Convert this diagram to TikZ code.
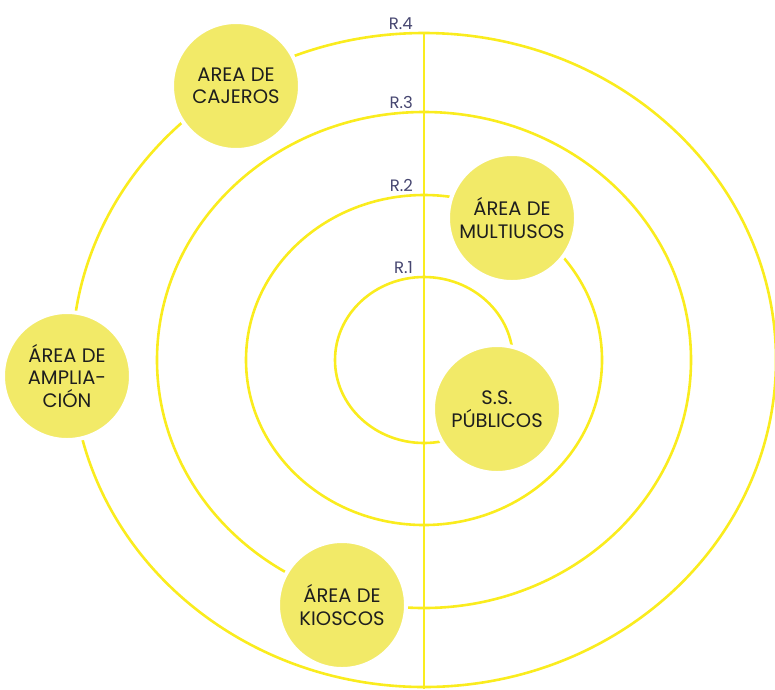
\documentclass[tikz,border=0pt]{standalone}
\usepackage{fontspec}
\setmainfont{Poppins}
\usepackage{tikz}
\usetikzlibrary{positioning}
\usepackage{xcolor}
\definecolor{RingYellow}{RGB}{250,236,30}
\definecolor{AreaFill}{RGB}{242,234,104}
\definecolor{RingLabel}{RGB}{70,70,112}
\definecolor{AreaText}{RGB}{30,30,30}

\begin{document}
\begin{tikzpicture}[x=1pt, y=-1pt,
    ring/.style={draw=RingYellow, line width=2.6pt},
    area/.style={circle, fill=AreaFill, draw=white, line width=4pt, minimum size=128pt, inner sep=0pt, align=center, text=AreaText, font=\fontsize{19.5}{22.5}\selectfont},
    rlabel/.style={font=\fontsize{16.5}{16.5}\selectfont, text=RingLabel, anchor=south east, inner sep=0pt},
]
\useasboundingbox (0,0) rectangle (775,689);
\coordinate (centro) at (424,360);

\foreach \n/\rx/\ry in {1/89/83, 2/178/165, 3/267/248, 4/352/327} {
    \draw[ring] (centro) ellipse ({\rx} and {\ry});
    \node[rlabel] (r\n) at (413,{357-\ry}) {R.\n};
}
\draw[ring] (424,33) -- (424,689);

\node[area] (cajeros) at (236,86) {AREA DE\\CAJEROS};
\node[area] (multiusos) at (512,218) {ÁREA DE\\MULTIUSOS};
\node[area] (publicos) at (497,409) {S.S.\\PÚBLICOS};
\node[area] (ampliacion) at (67,376) {ÁREA DE\\AMPLIA-\\CIÓN};
\node[area] (kioscos) at (342,605) {ÁREA DE\\KIOSCOS};
\end{tikzpicture}
\end{document}
